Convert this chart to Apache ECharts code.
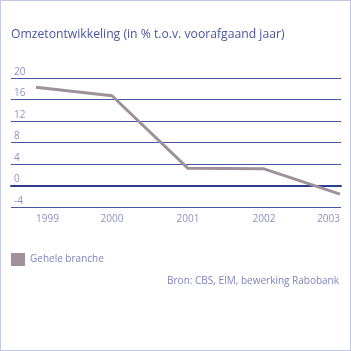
<!DOCTYPE html>
<html>
<head>
<meta charset="utf-8">
<script src="https://cdn.jsdelivr.net/npm/echarts@6/dist/echarts.min.js"></script>
<style>
  html, body { margin: 0; padding: 0; background: #fff; }
  #chart { width: 351px; height: 351px; box-sizing: border-box; border: 1px solid #c3c7e6; }
</style>
</head>
<body>
<div id="chart"></div>
<script>
// omzetontwikkeling, % t.o.v. voorafgaand jaar
var years = ['1999', '2000', '2001', '2002', '2003'];
var gehele = [18.3, 16.7, 3.2, 3.1, -1.6];
var yTicks = [-4, 0, 4, 8, 12, 16, 20];

var chart = echarts.init(document.getElementById('chart'), null, { renderer: 'canvas' });

var lineBlue = '#4656a6';
var labelBlue = '#8c92c0';
var fontName = 'Open Sans';

var yMin = yTicks[0];
var yMax = yTicks[yTicks.length - 1];

var option = {
  animation: false,
  color: ['#9e919b'],
  title: {
    text: 'Omzetontwikkeling (in % t.o.v. voorafgaand jaar)',
    left: 5,
    top: 23,
    textStyle: { fontFamily: fontName, fontSize: 12.2, fontWeight: 'normal', color: '#4a55a0' }
  },
  legend: {
    left: 5,
    top: 247,
    itemWidth: 14,
    itemHeight: 13,
    itemGap: 6,
    icon: 'rect',
    textStyle: { fontFamily: fontName, fontSize: 10, color: '#7d84bd' },
    data: ['Gehele branche']
  },
  graphic: [{
    type: 'text',
    right: 11,
    top: 275,
    style: {
      text: 'Bron: CBS, EIM, bewerking Rabobank',
      fontFamily: fontName,
      fontSize: 10,
      fill: '#7d84bd'
    }
  }],
  // grid 0: horizontal lines + y labels, grid 1: the line itself
  grid: [
    { left: 10, right: 9, top: 77, bottom: 143 },
    { left: 35, right: 10, top: 77, bottom: 143 }
  ],
  xAxis: [{
    gridIndex: 0,
    type: 'category',
    data: years,
    axisLine: { show: true, onZero: true, lineStyle: { color: '#2e3d8c', width: 2 } },
    axisTick: { show: false },
    axisLabel: { show: false }
  }, {
    gridIndex: 1,
    type: 'category',
    boundaryGap: false,
    data: years,
    axisLine: { show: false, onZero: false },
    axisTick: { show: false },
    axisLabel: {
      margin: 7,
      fontFamily: fontName,
      fontSize: 10,
      color: labelBlue,
      alignMinLabel: 'left',
      alignMaxLabel: 'right'
    }
  }],
  yAxis: [{
    gridIndex: 0,
    type: 'value',
    min: yMin,
    max: yMax,
    interval: 4,
    axisLine: { show: false },
    axisTick: { show: false },
    axisLabel: {
      inside: true,
      margin: 3,
      verticalAlign: 'bottom',
      align: 'left',
      padding: [0, 0, 1, 0],
      fontFamily: fontName,
      fontSize: 10,
      color: labelBlue
    },
    splitLine: { lineStyle: { color: lineBlue, width: 1 } }
  }, {
    gridIndex: 1,
    type: 'value',
    min: yMin,
    max: yMax,
    interval: 4,
    axisLine: { show: false },
    axisTick: { show: false },
    axisLabel: { show: false },
    splitLine: { show: false }
  }],
  series: [{
    name: 'Gehele branche',
    type: 'line',
    xAxisIndex: 1,
    yAxisIndex: 1,
    data: gehele,
    symbol: 'none',
    lineStyle: { width: 3, color: '#9e919b' },
    z: 3
  }]
};

chart.setOption(option);
</script>
</body>
</html>
